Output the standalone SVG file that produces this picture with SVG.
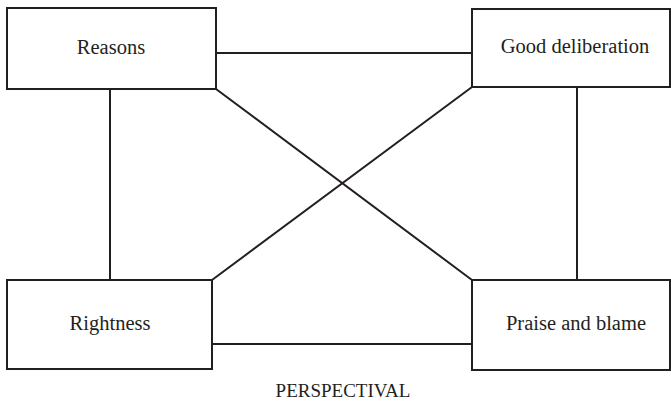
<svg xmlns="http://www.w3.org/2000/svg" width="671" height="402" viewBox="0 0 671 402">
<style>
.box{fill:#fff;stroke:#231f20;stroke-width:2}
.lbl{font-family:"Liberation Serif",serif;font-size:20.5px;fill:#231f20;text-anchor:middle}
.conn line{stroke:#231f20;stroke-width:2}
</style>
<rect width="671" height="402" fill="#fff"/>
<g class="conn" id="connectors">
<line x1="216" y1="53" x2="472" y2="53"/>
<line x1="110" y1="89" x2="110" y2="280"/>
<line x1="577" y1="87" x2="577" y2="280"/>
<line x1="212" y1="344" x2="472" y2="344"/>
<line x1="216" y1="89" x2="472" y2="280"/>
<line x1="472" y1="87" x2="212" y2="280"/>
</g>
<g id="reasons"><rect class="box" x="7" y="8" width="209" height="81"/><text class="lbl" x="111" y="54">Reasons</text></g>
<g id="good-deliberation"><rect class="box" x="472" y="9" width="198" height="78"/><text class="lbl" x="575" y="53">Good deliberation</text></g>
<g id="rightness"><rect class="box" x="7" y="280" width="205" height="89"/><text class="lbl" x="110" y="330">Rightness</text></g>
<g id="praise-and-blame"><rect class="box" x="472" y="280" width="198" height="90"/><text class="lbl" x="576" y="330">Praise and blame</text></g>
<text x="343" y="397" font-family="'Liberation Serif',serif" font-size="19" fill="#231f20" text-anchor="middle">PERSPECTIVAL</text>
</svg>
